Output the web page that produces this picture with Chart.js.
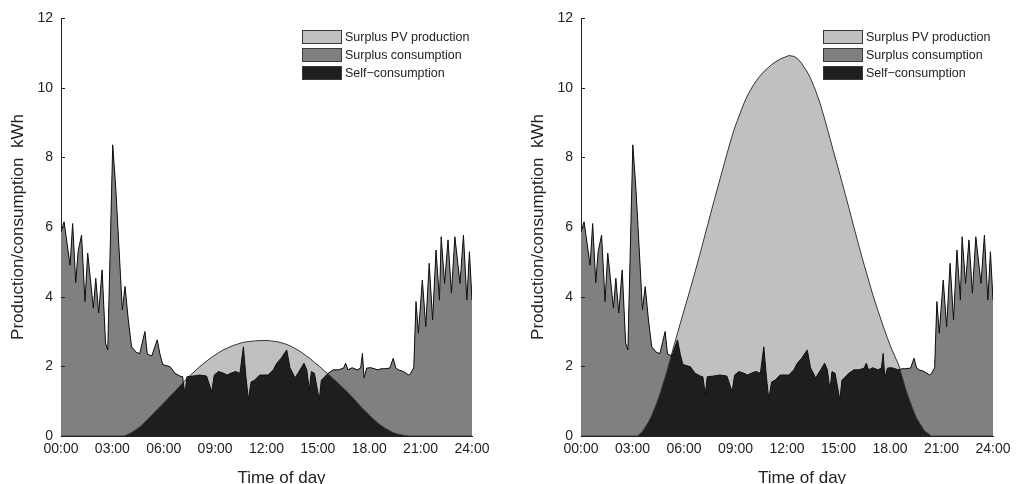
<!DOCTYPE html>
<html>
<head>
<meta charset="utf-8">
<title>PV self-consumption</title>
<script src="https://cdn.jsdelivr.net/npm/chart.js@4.4.1/dist/chart.umd.min.js"></script>
<style>
  html, body { margin: 0; padding: 0; background: #fff; }
  body { width: 1020px; height: 484px; position: relative; overflow: hidden;
         font-family: "Liberation Sans", Arial, sans-serif; color: #222; }
  .panel { position: absolute; top: 0; width: 510px; height: 484px; }
  .legend { position: absolute; font-size: 12.5px; }
  .legend-row { display: flex; align-items: center; height: 18px; white-space: nowrap; }
  .legend-box { width: 38px; height: 12px; border: 1px solid #3a3a3a; margin-right: 3px; }
  .x-title { position: absolute; font-size: 17px; line-height: 20px; white-space: nowrap; transform: translateX(-50%); }
</style>
</head>
<body>
<div class="panel" style="left:0"><canvas id="chart-left" width="510" height="484"></canvas></div>
<div class="panel" style="left:510px"><canvas id="chart-right" width="510" height="484"></canvas></div>
<script>
"use strict";

// Time of day (hours), shared by all series
const hours = [
    0.00, 0.18, 0.53, 0.68, 0.86, 1.00, 1.20, 1.40, 1.56, 1.89,
    2.03, 2.20, 2.40, 2.60, 2.73, 3.02, 3.20, 3.30, 3.58, 3.74,
    3.93, 4.12, 4.40, 4.60, 4.90, 5.04, 5.30, 5.62, 5.78, 5.94,
    6.37, 6.65, 6.95, 7.10, 7.24, 7.35, 7.70, 8.10, 8.50, 8.80,
    8.95, 9.20, 9.50, 9.70, 10.00, 10.20, 10.45, 10.65, 10.80, 10.94,
    11.10, 11.30, 11.60, 12.10, 12.40, 12.60, 12.85, 13.18, 13.37, 13.67,
    13.90, 14.19, 14.35, 14.50, 14.62, 14.80, 15.08, 15.20, 15.40, 15.60,
    15.90, 16.20, 16.50, 16.62, 16.75, 17.00, 17.30, 17.50, 17.60, 17.70,
    17.85, 18.10, 18.50, 18.70, 18.90, 19.20, 19.40, 19.55, 19.70, 20.00,
    20.30, 20.40, 20.60, 20.73, 20.87, 21.10, 21.30, 21.50, 21.70, 21.90,
    22.10, 22.20, 22.40, 22.60, 22.80, 23.00, 23.30, 23.50, 23.70, 23.85,
    24.00
];

// Household consumption, kWh (same in both panels)
const consumption = [
    5.85, 6.15, 4.90, 6.10, 4.40, 5.30, 5.77, 3.86, 5.25, 3.67,
    4.53, 3.53, 4.77, 2.67, 2.47, 8.36, 7.10, 6.20, 3.62, 4.29,
    3.33, 2.56, 2.40, 2.37, 3.00, 2.35, 2.30, 2.76, 2.35, 2.05,
    1.99, 1.80, 1.72, 1.70, 1.18, 1.70, 1.72, 1.75, 1.72, 1.27,
    1.75, 1.85, 1.80, 1.75, 1.82, 1.85, 1.80, 2.56, 1.70, 1.05,
    1.55, 1.60, 1.75, 1.75, 1.90, 2.09, 2.23, 2.47, 1.96, 1.67,
    1.85, 2.09, 1.90, 1.32, 1.85, 1.80, 1.03, 1.60, 1.70, 1.80,
    1.90, 1.90, 1.95, 2.09, 1.90, 1.96, 1.90, 1.95, 2.37, 1.67,
    1.95, 1.96, 1.90, 1.93, 1.93, 1.95, 2.23, 1.95, 1.90, 1.85,
    1.75, 1.78, 1.96, 3.86, 2.95, 4.48, 3.14, 4.96, 3.33, 5.34,
    3.90, 5.72, 4.38, 5.63, 4.10, 5.72, 4.38, 5.77, 3.90, 5.29,
    3.90
];

// PV production, kWh - small system (left panel)
const pvSmall = [
    0, 0, 0, 0, 0, 0, 0, 0, 0, 0,
    0, 0, 0, 0, 0, 0, 0, 0, 0, 0.01,
    0.05, 0.10, 0.19, 0.26, 0.40, 0.47, 0.60, 0.76, 0.84, 0.92,
    1.14, 1.28, 1.44, 1.52, 1.59, 1.65, 1.81, 1.99, 2.15, 2.26,
    2.31, 2.39, 2.48, 2.52, 2.59, 2.62, 2.66, 2.69, 2.70, 2.71,
    2.72, 2.73, 2.74, 2.74, 2.72, 2.71, 2.68, 2.63, 2.59, 2.51,
    2.45, 2.35, 2.29, 2.24, 2.19, 2.11, 2.00, 1.95, 1.86, 1.78,
    1.64, 1.51, 1.37, 1.31, 1.25, 1.12, 0.96, 0.85, 0.80, 0.75,
    0.68, 0.55, 0.37, 0.30, 0.23, 0.15, 0.10, 0.07, 0.05, 0.02,
    0, 0, 0, 0, 0, 0, 0, 0, 0, 0,
    0, 0, 0, 0, 0, 0, 0, 0, 0, 0,
    0
];

// PV production, kWh - large system (right panel)
const pvLarge = [
    0, 0, 0, 0, 0, 0, 0, 0, 0, 0,
    0, 0, 0, 0, 0, 0, 0, 0, 0.13, 0.25,
    0.40, 0.59, 0.93, 1.21, 1.69, 1.92, 2.39, 2.95, 3.23, 3.50,
    4.23, 4.72, 5.26, 5.54, 5.81, 6.01, 6.66, 7.38, 8.10, 8.61,
    8.85, 9.18, 9.56, 9.78, 10.04, 10.19, 10.35, 10.46, 10.53, 10.59,
    10.66, 10.73, 10.82, 10.92, 10.90, 10.84, 10.70, 10.45, 10.27, 9.91,
    9.59, 9.11, 8.82, 8.55, 8.33, 8.01, 7.51, 7.29, 6.93, 6.56,
    5.99, 5.44, 4.90, 4.70, 4.48, 4.05, 3.60, 3.30, 3.16, 3.02,
    2.81, 2.49, 2.05, 1.71, 1.37, 0.94, 0.68, 0.51, 0.39, 0.15,
    0.04, 0, 0, 0, 0, 0, 0, 0, 0, 0,
    0, 0, 0, 0, 0, 0, 0, 0, 0, 0,
    0
];

const yTicks = [0, 2, 4, 6, 8, 10, 12];
const xTickLabels = ['00:00', '03:00', '06:00', '09:00', '12:00', '15:00', '18.00', '21:00', '24:00'];
const legendLabels = ['Surplus PV production', 'Surplus consumption', 'Self\u2212consumption'];
const legendColors = ['#c0c0c0', '#808080', '#1e1e1e'];
const yTitle = 'Production/consumption  kWh';
const xTitle = 'Time of day';

Chart.defaults.font.family = '"Liberation Sans", Arial, sans-serif';
Chart.defaults.color = '#222';

// short inward tick marks on the y axis
const innerTicks = {
    id: 'innerTicks',
    afterDatasetsDraw(chart) {
        const { ctx, chartArea, scales: { y } } = chart;
        ctx.save();
        ctx.strokeStyle = '#222';
        ctx.lineWidth = 1;
        y.ticks.forEach(t => {
            const py = Math.round(y.getPixelForValue(t.value)) + 0.5;
            ctx.beginPath();
            ctx.moveTo(chartArea.left, py);
            ctx.lineTo(chartArea.left + 4, py);
            ctx.stroke();
        });
        ctx.restore();
    }
};

function toPoints(values) {
    return hours.map((h, i) => ({ x: h, y: values[i] }));
}

function makeChart(canvasId, pv, padLeft, padRight) {
    const canvas = document.getElementById(canvasId);
    const chart = new Chart(canvas.getContext('2d'), {
        type: 'line',
        data: {
            datasets: [
                {
                    // gap between consumption and PV: dark where consumption is higher, light where PV is
                    label: 'Consumption',
                    data: toPoints(consumption),
                    borderColor: '#111',
                    borderWidth: 1,
                    pointRadius: 0,
                    tension: 0,
                    fill: { target: 1, above: legendColors[1], below: legendColors[0] }
                },
                {
                    label: 'PV production',
                    data: toPoints(pv),
                    borderColor: '#333',
                    borderWidth: 0.9,
                    pointRadius: 0,
                    tension: 0,
                    fill: { target: 'origin', above: legendColors[2] }
                },
                {
                    label: 'Consumption base',
                    data: toPoints(consumption),
                    borderWidth: 0,
                    pointRadius: 0,
                    tension: 0,
                    fill: { target: 'origin', above: legendColors[2] }
                }
            ]
        },
        options: {
            responsive: false,
            animation: false,
            events: [],
            layout: { padding: { left: padLeft, right: padRight, top: 18, bottom: 0 } },
            plugins: {
                legend: { display: false },
                tooltip: { enabled: false },
                filler: { drawTime: 'beforeDatasetsDraw' }
            },
            scales: {
                x: {
                    type: 'linear',
                    min: 0,
                    max: 24,
                    z: 1,
                    grid: { display: false, drawTicks: false },
                    border: { display: true, color: '#222', width: 1 },
                    afterBuildTicks: s => { s.ticks = xTickLabels.map((_, i) => ({ value: i * 3 })); },
                    afterFit: s => { s.height = 48; },
                    ticks: {
                        autoSkip: false,
                        maxRotation: 0,
                        padding: 5,
                        font: { size: 14 },
                        callback: (v, i) => xTickLabels[i]
                    }
                },
                y: {
                    min: 0,
                    max: 12,
                    z: 1,
                    grid: { display: false, drawTicks: false },
                    border: { display: true, color: '#222', width: 1 },
                    afterBuildTicks: s => { s.ticks = yTicks.map(v => ({ value: v })); },
                    afterFit: s => { s.width = 61; },
                    ticks: { padding: 8, font: { size: 14 } },
                    title: {
                        display: true,
                        text: yTitle,
                        font: { size: 17 },
                        padding: { top: 8, bottom: 0 }
                    }
                }
            }
        },
        plugins: [innerTicks]
    });

    // legend and x title placed from the chart area
    const panel = canvas.parentElement;
    const area = chart.chartArea;

    const legend = document.createElement('div');
    legend.className = 'legend';
    legendLabels.forEach((label, i) => {
        const row = document.createElement('div');
        row.className = 'legend-row';
        const box = document.createElement('span');
        box.className = 'legend-box';
        box.style.background = legendColors[i];
        const text = document.createElement('span');
        text.textContent = label;
        row.appendChild(box);
        row.appendChild(text);
        legend.appendChild(row);
    });
    legend.style.left = (area.right - 170) + 'px';
    legend.style.top = (area.top + 10) + 'px';
    panel.appendChild(legend);

    const title = document.createElement('div');
    title.className = 'x-title';
    title.textContent = xTitle;
    title.style.left = ((area.left + area.right) / 2 + 15) + 'px';
    title.style.top = '468px';
    panel.appendChild(title);

    return chart;
}

document.addEventListener('DOMContentLoaded', () => {
    makeChart('chart-left', pvSmall, 0, 38);
    makeChart('chart-right', pvLarge, 10, 27);
});
</script>
</body>
</html>
